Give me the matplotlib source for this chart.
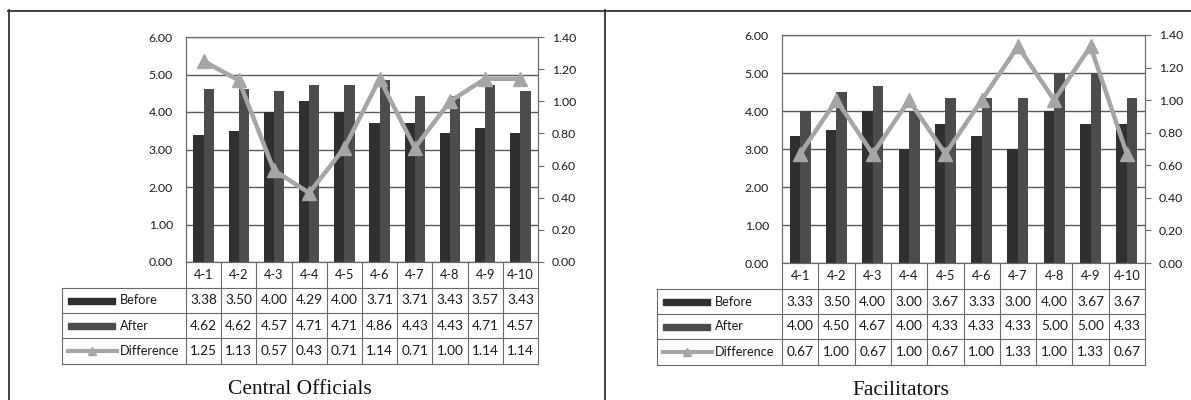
import numpy as np
import matplotlib.pyplot as plt
from matplotlib import transforms
from matplotlib.lines import Line2D
from matplotlib.patches import Rectangle
from matplotlib.ticker import FormatStrFormatter

items = ['4-1', '4-2', '4-3', '4-4', '4-5', '4-6', '4-7', '4-8', '4-9', '4-10']

central_before = [3.38, 3.50, 4.00, 4.29, 4.00, 3.71, 3.71, 3.43, 3.57, 3.43]
central_after = [4.62, 4.62, 4.57, 4.71, 4.71, 4.86, 4.43, 4.43, 4.71, 4.57]
central_diff = [1.25, 1.13, 0.57, 0.43, 0.71, 1.14, 0.71, 1.00, 1.14, 1.14]

facil_before = [3.33, 3.50, 4.00, 3.00, 3.67, 3.33, 3.00, 4.00, 3.67, 3.67]
facil_after = [4.00, 4.50, 4.67, 4.00, 4.33, 4.33, 4.33, 5.00, 5.00, 4.33]
facil_diff = [0.67, 1.00, 0.67, 1.00, 0.67, 1.00, 1.33, 1.00, 1.33, 0.67]

row_names = ['Before', 'After', 'Difference']

BEFORE_C = '#303030'
AFTER_C = '#4c4c4c'
DIFF_C = '#a6a6a6'
GRID_C = '#5a5a5a'
TABLE_C = '#6a6a6a'
TEXT_C = '#1a1a1a'

W, H = 1191, 400
plt.rcParams['font.family'] = ['Lato', 'DejaVu Sans']
fig = plt.figure(figsize=(W / 100, H / 100), dpi=100)


def fx(px):
    return px / W


def fy(py):
    return 1 - py / H


def hline(x0, x1, y, color=TABLE_C, lw=0.8):
    fig.add_artist(Line2D([fx(x0), fx(x1)], [fy(y), fy(y)], color=color, lw=lw))


def vline(x, y0, y1, color=TABLE_C, lw=0.8):
    fig.add_artist(Line2D([fx(x), fx(x)], [fy(y0), fy(y1)], color=color, lw=lw))


def draw_panel(left, right, top, bottom, hdr_left, title, title_y, before, after, diff):
    ax = fig.add_axes([fx(left), fy(bottom), (right - left) / W, (bottom - top) / H])
    x = np.arange(len(items))
    w = 0.29
    ax.bar(x - w / 2, before, w, color=BEFORE_C, zorder=2)
    ax.bar(x + w / 2, after, w, color=AFTER_C, zorder=2)
    ax.set_xlim(-0.5, len(items) - 0.5)
    ax.set_ylim(0, 6)
    ax.set_yticks(np.arange(0, 7, 1))
    ax.yaxis.set_major_formatter(FormatStrFormatter('%.2f'))
    ax.yaxis.grid(True, color=GRID_C, lw=1)
    ax.set_axisbelow(True)
    ax.set_xticks([])
    ax.tick_params(axis='y', length=0, pad=9.5, labelsize=8.8, labelcolor=TEXT_C)
    for s in ax.spines.values():
        s.set_color(TABLE_C)
        s.set_linewidth(0.8)

    ax2 = ax.twinx()
    ax2.plot(x, diff, color=DIFF_C, lw=3.2, marker='^', ms=10, zorder=3)
    ax2.set_ylim(0, 1.4)
    ax2.set_yticks(np.arange(0, 1.41, 0.2))
    ax2.yaxis.set_major_formatter(FormatStrFormatter('%.2f'))
    ax2.tick_params(axis='y', length=4, width=0.8, color=TABLE_C, pad=6,
                    labelsize=8.8, labelcolor=TEXT_C)
    for s in ax2.spines.values():
        s.set_color(TABLE_C)
        s.set_linewidth(0.8)

    # data table under the plot
    rows = [bottom, bottom + 26, bottom + 51, bottom + 76, bottom + 102]
    col_t = transforms.blended_transform_factory(ax.transData, fig.transFigure)
    for y in rows[1:]:
        hline(hdr_left, right, y)
    vline(hdr_left, rows[1], rows[4])
    for b in np.arange(-0.5, len(items), 1.0):
        fig.add_artist(Line2D([b, b], [fy(rows[0]), fy(rows[4])], color=TABLE_C,
                              lw=0.8, transform=col_t))

    def cy(i):
        return fy((rows[i] + rows[i + 1]) / 2)

    for i, lab in enumerate(items):
        fig.text(i, cy(0), lab, transform=col_t, ha='center', va='center',
                 fontsize=9.2, color=TEXT_C)
    for r, vals in enumerate([before, after, diff]):
        for i, v in enumerate(vals):
            fig.text(i, cy(r + 1), '%.2f' % v, transform=col_t, ha='center',
                     va='center', fontsize=9.8, color=TEXT_C)

    # legend keys in the row headers
    for r, (name, col) in enumerate(zip(row_names, [BEFORE_C, AFTER_C, None])):
        yc = (rows[r + 1] + rows[r + 2]) / 2
        if col is not None:
            fig.add_artist(Rectangle((fx(hdr_left + 6), fy(yc + 3)), 47 / W, 6 / H,
                                     color=col, transform=fig.transFigure))
        else:
            fig.add_artist(Line2D([fx(hdr_left + 6), fx(hdr_left + 55)], [fy(yc), fy(yc)],
                                  color=DIFF_C, lw=3))
            fig.add_artist(Line2D([fx(hdr_left + 30)], [fy(yc)], color=DIFF_C,
                                  marker='^', ms=6, lw=0))
        fig.text(fx(hdr_left + 58), fy(yc), name, ha='left', va='center',
                 fontsize=9.2, color=TEXT_C)

    fig.text(fx((hdr_left + right) / 2), fy(title_y), title, ha='center',
             va='baseline', fontsize=15.5, family='Liberation Serif', color='#111111')


draw_panel(186, 538, 37, 262, 62, 'Central Officials', 394,
           central_before, central_after, central_diff)
draw_panel(782, 1145, 35, 263, 657, 'Facilitators', 395,
           facil_before, facil_after, facil_diff)

# outer frame and divider
hline(8, W, 10.5, color='#333333', lw=1.3)
vline(8.5, 10, H, color='#333333', lw=1.3)
vline(605, 10, H, color='#333333', lw=1.3)

fig.savefig('out.png', dpi=100)
